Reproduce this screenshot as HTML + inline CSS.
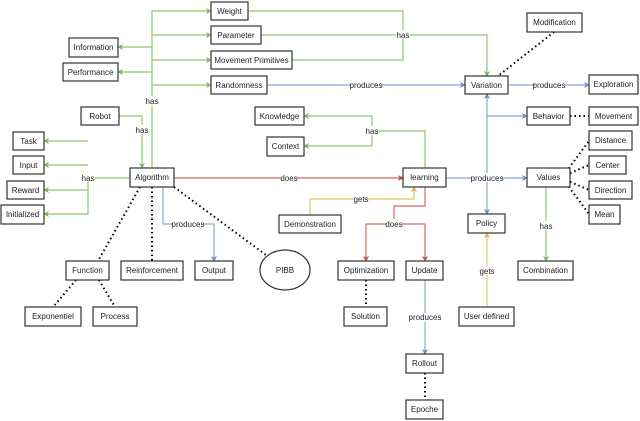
<!DOCTYPE html>
<html><head><meta charset="utf-8"><style>
body{margin:0;background:#fff}
svg{display:block}
text{font-family:"Liberation Sans",sans-serif;font-size:8px;fill:#222}
.b{fill:#fff;stroke:#333;stroke-width:1.2}
.g{stroke:#8fc46e;fill:none;stroke-width:1.2}
.u{stroke:#8aa8d8;fill:none;stroke-width:1.2}
.r{stroke:#d46a66;fill:none;stroke-width:1.2}
.y{stroke:#e2c560;fill:none;stroke-width:1.2}
.d{stroke:#000;fill:none;stroke-width:2;stroke-dasharray:1.5 3}
.lb{fill:#fff}
</style></head><body>
<svg width="640" height="421" viewBox="0 0 640 421">
<defs>
<marker id="ag" markerWidth="6" markerHeight="6" refX="5" refY="3" orient="auto" markerUnits="userSpaceOnUse"><path d="M0,0L6,3L0,6L1.5,3z" fill="#82b366"/></marker>
<marker id="au" markerWidth="6" markerHeight="6" refX="5" refY="3" orient="auto" markerUnits="userSpaceOnUse"><path d="M0,0L6,3L0,6L1.5,3z" fill="#6c8ebf"/></marker>
<marker id="ar" markerWidth="6" markerHeight="6" refX="5" refY="3" orient="auto" markerUnits="userSpaceOnUse"><path d="M0,0L6,3L0,6L1.5,3z" fill="#b85450"/></marker>
<marker id="ay" markerWidth="6" markerHeight="6" refX="5" refY="3" orient="auto" markerUnits="userSpaceOnUse"><path d="M0,0L6,3L0,6L1.5,3z" fill="#d6b656"/></marker>
</defs>
<path class="g" d="M152,168V11H211" marker-end="url(#ag)"/>
<path class="g" d="M152,35H211" marker-end="url(#ag)"/>
<path class="g" d="M152,60H211" marker-end="url(#ag)"/>
<path class="g" d="M152,85H211" marker-end="url(#ag)"/>
<path class="g" d="M152,47H118" marker-end="url(#ag)"/>
<path class="g" d="M152,72H118" marker-end="url(#ag)"/>
<path class="g" d="M119,116H142V168" marker-end="url(#ag)"/>
<path class="g" d="M130,178H88V214H44" marker-end="url(#ag)"/>
<path class="g" d="M88,141H44" marker-end="url(#ag)"/>
<path class="g" d="M88,165H44" marker-end="url(#ag)"/>
<path class="g" d="M88,190H44" marker-end="url(#ag)"/>
<path class="g" d="M248,11H403V60H292M261,35H403"/>
<path class="g" d="M403,35H487V76" marker-end="url(#ag)"/>
<path class="g" d="M425,168V131H372"/>
<path class="g" d="M372,116V146"/>
<path class="g" d="M372,116H304" marker-end="url(#ag)"/>
<path class="g" d="M372,146H304" marker-end="url(#ag)"/>
<path class="g" d="M546,187V261" marker-end="url(#ag)"/>
<path class="u" d="M267,85H465" marker-end="url(#au)"/>
<path class="u" d="M508,85H589" marker-end="url(#au)"/>
<path class="u" d="M487,116V94" marker-end="url(#au)"/>
<path class="u" d="M487,116V214" marker-end="url(#au)"/>
<path class="u" d="M487,116H527" marker-end="url(#au)"/>
<path class="u" d="M446,178H527" marker-end="url(#au)"/>
<path class="u" d="M425,280V354" marker-end="url(#au)"/>
<path class="u" d="M163,187V224H214V261" marker-end="url(#au)"/>
<path class="r" d="M174,178H403" marker-end="url(#ar)"/>
<path class="r" d="M425,187V206H394V224H366V261" marker-end="url(#ar)"/>
<path class="r" d="M394,224H425V261" marker-end="url(#ar)"/>
<path class="y" d="M310,215V199H414V187" marker-end="url(#ay)"/>
<path class="y" d="M487,307V233" marker-end="url(#ay)"/>
<path class="d" d="M554,32L498,76M570,116H589M566,172L589,141M566,175L589,165M566,180L589,190M566,183L589,214M366,280V307M425,373V400M140,187L98,261M152,187V261M174,187L266,255M76,280L53,307M99,280L115,307"/>
<g text-anchor="middle">
<rect class="lb" x="145" y="96" width="14" height="9"/><text x="152" y="104">has</text>
<rect class="lb" x="135" y="125" width="14" height="9"/><text x="142" y="133">has</text>
<rect class="lb" x="81" y="173" width="14" height="9"/><text x="88" y="181">has</text>
<rect class="lb" x="396" y="30" width="14" height="9"/><text x="403" y="38">has</text>
<rect class="lb" x="365" y="126" width="14" height="9"/><text x="372" y="134">has</text>
<rect class="lb" x="539" y="221" width="14" height="9"/><text x="546" y="229">has</text>
<rect class="lb" x="351" y="80" width="30" height="9"/><text x="366" y="88">produces</text>
<rect class="lb" x="535" y="80" width="30" height="9"/><text x="549" y="88">produces</text>
<rect class="lb" x="472" y="173" width="30" height="9"/><text x="487" y="181">produces</text>
<rect class="lb" x="410" y="313" width="30" height="9"/><text x="425" y="320">produces</text>
<rect class="lb" x="173" y="220" width="30" height="9"/><text x="188" y="227">produces</text>
<rect class="lb" x="281" y="173" width="16" height="9"/><text x="289" y="181">does</text>
<rect class="lb" x="386" y="219" width="16" height="9"/><text x="394" y="227">does</text>
<rect class="lb" x="354" y="194" width="14" height="9"/><text x="361" y="202">gets</text>
<rect class="lb" x="480" y="266" width="14" height="9"/><text x="487" y="274">gets</text>
</g>
<g text-anchor="middle">
<rect class="b" x="211" y="2" width="37" height="18"/><text x="229.5" y="14">Weight</text>
<rect class="b" x="211" y="26" width="50" height="18"/><text x="236" y="38">Parameter</text>
<rect class="b" x="211" y="51" width="81" height="18"/><text x="251.5" y="63">Movement Primitives</text>
<rect class="b" x="211" y="76" width="56" height="18"/><text x="239" y="88">Randomness</text>
<rect class="b" x="69" y="38" width="49" height="19"/><text x="93.5" y="50">Information</text>
<rect class="b" x="63" y="63" width="55" height="18"/><text x="90.5" y="75">Performance</text>
<rect class="b" x="81" y="107" width="38" height="18"/><text x="100" y="119">Robot</text>
<rect class="b" x="13" y="132" width="31" height="18"/><text x="28.5" y="144">Task</text>
<rect class="b" x="13" y="156" width="31" height="18"/><text x="28.5" y="168">Input</text>
<rect class="b" x="7" y="181" width="37" height="18"/><text x="25.5" y="193">Reward</text>
<rect class="b" x="1" y="205" width="43" height="19"/><text x="22.5" y="217">Initialized</text>
<rect class="b" x="130" y="168" width="44" height="19"/><text x="152" y="180">Algorithm</text>
<rect class="b" x="255" y="107" width="49" height="18"/><text x="279.5" y="119">Knowledge</text>
<rect class="b" x="267" y="137" width="37" height="19"/><text x="285.5" y="149">Context</text>
<rect class="b" x="403" y="168" width="43" height="19"/><text x="424.5" y="180">learning</text>
<rect class="b" x="279" y="215" width="62" height="18"/><text x="310" y="227">Demonstration</text>
<rect class="b" x="465" y="76" width="43" height="18"/><text x="486.5" y="88">Variation</text>
<rect class="b" x="527" y="13" width="55" height="19"/><text x="554.5" y="25">Modification</text>
<rect class="b" x="589" y="75" width="49" height="19"/><text x="613.5" y="87">Exploration</text>
<rect class="b" x="527" y="107" width="43" height="18"/><text x="548.5" y="119">Behavior</text>
<rect class="b" x="589" y="107" width="49" height="18"/><text x="613.5" y="119">Movement</text>
<rect class="b" x="589" y="131" width="43" height="19"/><text x="610.5" y="143">Distance</text>
<rect class="b" x="589" y="156" width="37" height="18"/><text x="607.5" y="168">Center</text>
<rect class="b" x="589" y="181" width="43" height="18"/><text x="610.5" y="193">Direction</text>
<rect class="b" x="589" y="205" width="31" height="19"/><text x="604.5" y="217">Mean</text>
<rect class="b" x="527" y="168" width="43" height="19"/><text x="548.5" y="180">Values</text>
<rect class="b" x="468" y="214" width="37" height="19"/><text x="486.5" y="226">Policy</text>
<rect class="b" x="518" y="261" width="55" height="19"/><text x="545.5" y="273">Combination</text>
<rect class="b" x="459" y="307" width="55" height="19"/><text x="486.5" y="319">User defined</text>
<rect class="b" x="338" y="261" width="56" height="19"/><text x="366" y="273">Optimization</text>
<rect class="b" x="406" y="261" width="37" height="19"/><text x="424.5" y="273">Update</text>
<rect class="b" x="344" y="307" width="43" height="19"/><text x="365.5" y="319">Solution</text>
<rect class="b" x="406" y="354" width="37" height="19"/><text x="424.5" y="366">Rollout</text>
<rect class="b" x="406" y="400" width="37" height="19"/><text x="424.5" y="412">Epoche</text>
<rect class="b" x="66" y="261" width="43" height="19"/><text x="87.5" y="273">Function</text>
<rect class="b" x="121" y="261" width="62" height="19"/><text x="152" y="273">Reinforcement</text>
<rect class="b" x="195" y="261" width="38" height="19"/><text x="214" y="273">Output</text>
<ellipse class="b" cx="285" cy="270" rx="25" ry="20"/><text x="285" y="273">PIBB</text>
<rect class="b" x="25" y="307" width="56" height="19"/><text x="53" y="319">Exponentiel</text>
<rect class="b" x="93" y="307" width="44" height="19"/><text x="115" y="319">Process</text>
</g>
</svg>
</body></html>
